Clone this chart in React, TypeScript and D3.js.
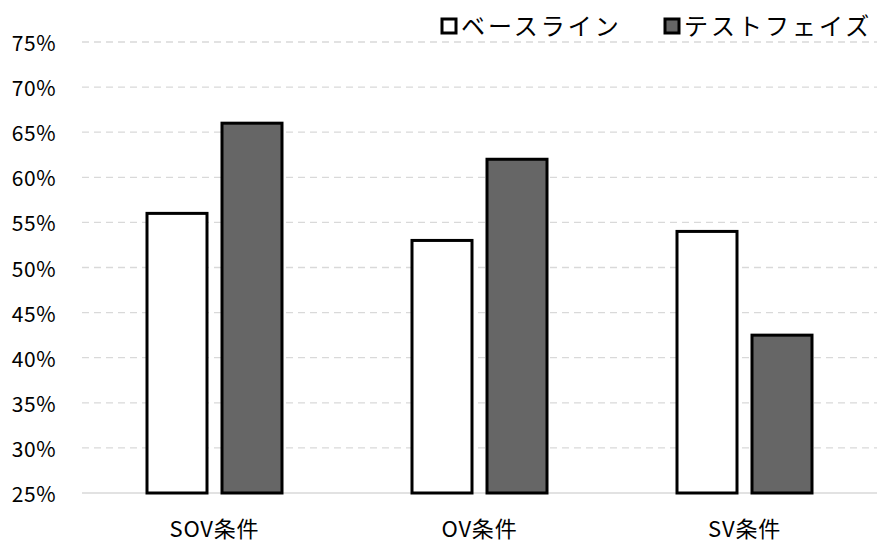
import React from "react";
import * as d3 from "d3";

const categories = ["SOV条件", "OV条件", "SV条件"];
const seriesNames = ["ベースライン", "テストフェイズ"];
const baseline = [0.56, 0.53, 0.54];
const testPhase = [0.66, 0.62, 0.425];
const yTicks = [0.25, 0.3, 0.35, 0.4, 0.45, 0.5, 0.55, 0.6, 0.65, 0.7, 0.75];
const seriesFill = ["#ffffff", "#666666"];

const W = 877;
const H = 545;
const margin = { left: 82, right: 0, top: 42, bottom: 52 };
const FONT = "'Noto Sans CJK JP', 'Noto Sans', sans-serif";

export default function App() {
  const x = d3
    .scaleBand<string>()
    .domain(categories)
    .range([margin.left, W - margin.right]);
  const y = d3
    .scaleLinear()
    .domain([0.25, 0.75])
    .range([H - margin.bottom, margin.top]);
  const fmt = d3.format(".0%");
  const barW = 60;
  const gap = 15;
  const series = [baseline, testPhase];

  return (
    <svg
      width={W}
      height={H}
      style={{ position: "absolute", left: 0, top: 0, background: "#fff" }}
      fontFamily={FONT}
    >
      {yTicks.map((t, i) => (
        <g key={t}>
          <line
            x1={margin.left}
            x2={W - margin.right}
            y1={y(t)}
            y2={y(t)}
            stroke="#d9d9d9"
            strokeWidth={1.3}
            strokeDasharray={i === 0 ? undefined : "7,5"}
          />
          <text
            x={56}
            y={y(t)}
            textAnchor="end"
            dominantBaseline="central"
            fontSize={21}
            letterSpacing={0.5}
            fill="#000"
          >
            {fmt(t)}
          </text>
        </g>
      ))}
      {categories.map((c, ci) => {
        const cx = (x(c) as number) + x.bandwidth() / 2;
        return (
          <g key={c}>
            {series.map((s, si) => {
              const left = si === 0 ? cx - gap / 2 - barW : cx + gap / 2;
              return (
                <rect
                  key={si}
                  x={left}
                  y={y(s[ci])}
                  width={barW}
                  height={y(0.25) - y(s[ci])}
                  fill={seriesFill[si]}
                  stroke="#000"
                  strokeWidth={3}
                />
              );
            })}
            <text
              x={cx}
              y={537}
              textAnchor="middle"
              fontSize={22}
              letterSpacing={0.8}
              fill="#000"
            >
              {c}
            </text>
          </g>
        );
      })}
      {seriesNames.map((n, i) => {
        const lx = i === 0 ? 442 : 665;
        return (
          <g key={n}>
            <rect
              x={lx}
              y={19}
              width={14}
              height={14}
              fill={seriesFill[i]}
              stroke="#000"
              strokeWidth={3}
            />
            <text x={lx + 19} y={35} fontSize={24} letterSpacing={3} fill="#000">
              {n}
            </text>
          </g>
        );
      })}
    </svg>
  );
}
